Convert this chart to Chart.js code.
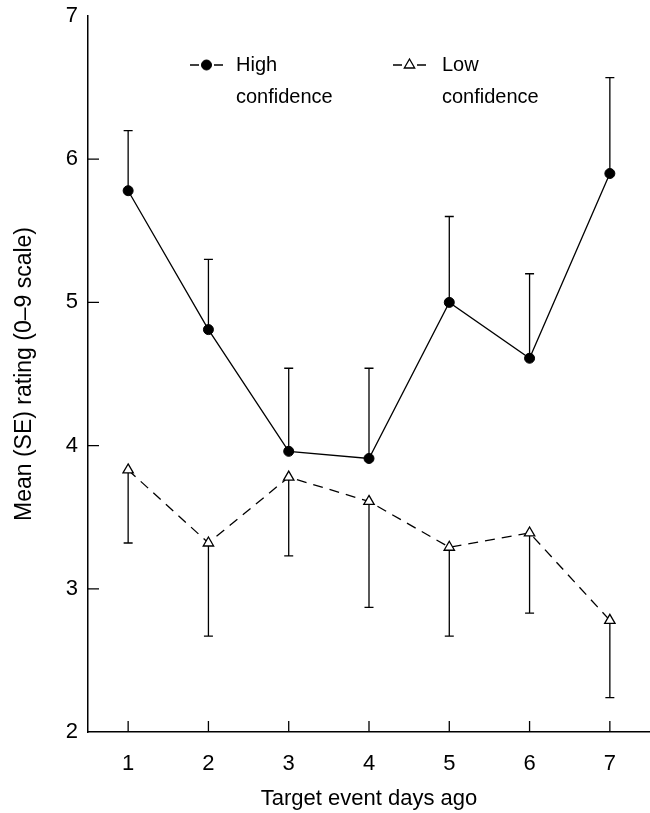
<!DOCTYPE html>
<html>
<head>
<meta charset="utf-8">
<script src="https://cdn.jsdelivr.net/npm/chart.js@4.4.0/dist/chart.umd.min.js"></script>
<style>
  html, body { margin: 0; padding: 0; background: #fff; }
</style>
</head>
<body>
<canvas id="grafico" width="650" height="813"></canvas>
<script>
// values
const days = ['1', '2', '3', '4', '5', '6', '7'];
const highMean = [5.78, 4.81, 3.96, 3.91, 5.0, 4.61, 5.9];
const highTop = [6.2, 5.3, 4.54, 4.54, 5.6, 5.2, 6.57];
const lowMean = [3.83, 3.32, 3.78, 3.61, 3.29, 3.39, 2.78];
const lowBottom = [3.32, 2.67, 3.23, 2.87, 2.67, 2.83, 2.24];
const yMin = 2, yMax = 7;

const FONT = "'Liberation Sans', Arial, sans-serif";
Chart.defaults.font.family = FONT;
Chart.defaults.color = '#000';

// SE bars: high goes up, low goes down
const errorBars = {
  id: 'errorBars',
  beforeDatasetsDraw(chart) {
    const {ctx, scales: {x, y}} = chart;
    const sets = [[highMean, highTop], [lowMean, lowBottom]];
    ctx.save();
    ctx.strokeStyle = '#000';
    ctx.lineWidth = 1.3;
    ctx.beginPath();
    sets.forEach(([mean, end]) => {
      mean.forEach((m, i) => {
        const px = x.getPixelForValue(i);
        const y0 = y.getPixelForValue(m);
        const y1 = y.getPixelForValue(end[i]);
        ctx.moveTo(px, y0);
        ctx.lineTo(px, y1);
        ctx.moveTo(px - 4.5, y1);
        ctx.lineTo(px + 4.5, y1);
      });
    });
    ctx.stroke();
    ctx.restore();
  }
};

// tick marks pointing into the plot
const innerTicks = {
  id: 'innerTicks',
  afterDraw(chart) {
    const {ctx, chartArea, scales: {x, y}} = chart;
    ctx.save();
    ctx.strokeStyle = '#000';
    ctx.lineWidth = 1.3;
    ctx.beginPath();
    y.ticks.forEach(t => {
      if (t.value > yMin && t.value < yMax) {
        const py = y.getPixelForValue(t.value);
        ctx.moveTo(chartArea.left, py);
        ctx.lineTo(chartArea.left + 11, py);
      }
    });
    x.ticks.forEach((t, i) => {
      const px = x.getPixelForTick(i);
      ctx.moveTo(px, chartArea.bottom);
      ctx.lineTo(px, chartArea.bottom - 11);
    });
    ctx.stroke();
    ctx.restore();
  }
};

// legend: -o- label on two lines
const legendBox = {
  id: 'legendBox',
  afterDraw(chart) {
    const ctx = chart.ctx;
    const items = [
      {x: 190, tx: 236, ds: 0, lines: ['High', 'confidence']},
      {x: 393, tx: 442, ds: 1, lines: ['Low', 'confidence']}
    ];
    const y0 = 65;
    items.forEach(it => {
      const ds = chart.data.datasets[it.ds];
      ctx.save();
      ctx.strokeStyle = '#000';
      ctx.lineWidth = 1.3;
      ctx.beginPath();
      ctx.moveTo(it.x, y0); ctx.lineTo(it.x + 9, y0);
      ctx.moveTo(it.x + 24, y0); ctx.lineTo(it.x + 33, y0);
      ctx.stroke();
      const cx = it.x + 16.5, r = ds.pointRadius;
      ctx.fillStyle = ds.pointBackgroundColor;
      ctx.lineWidth = ds.pointBorderWidth;
      ctx.beginPath();
      if (ds.pointStyle === 'triangle') {
        ctx.moveTo(cx, y0 - r);
        ctx.lineTo(cx + Math.sin(Math.PI * 2 / 3) * r, y0 + r / 2);
        ctx.lineTo(cx - Math.sin(Math.PI * 2 / 3) * r, y0 + r / 2);
        ctx.closePath();
      } else {
        ctx.arc(cx, y0, r, 0, Math.PI * 2);
      }
      ctx.fill();
      ctx.stroke();
      ctx.fillStyle = '#000';
      ctx.font = '20px ' + FONT;
      ctx.textBaseline = 'middle';
      ctx.fillText(it.lines[0], it.tx, y0);
      ctx.fillText(it.lines[1], it.tx, y0 + 32);
      ctx.restore();
    });
  }
};

const graph = new Chart(document.getElementById('grafico').getContext('2d'), {
  type: 'line',
  data: {
    labels: days,
    datasets: [{
      label: 'High confidence',
      data: highMean,
      borderColor: '#000',
      borderWidth: 1.3,
      pointStyle: 'circle',
      pointRadius: 5,
      pointBackgroundColor: '#000',
      pointBorderColor: '#000',
      pointBorderWidth: 1,
      tension: 0
    }, {
      label: 'Low confidence',
      data: lowMean,
      borderColor: '#000',
      borderWidth: 1.3,
      borderDash: [10, 7],
      pointStyle: 'triangle',
      pointRadius: 6,
      pointBackgroundColor: '#fff',
      pointBorderColor: '#000',
      pointBorderWidth: 1.3,
      tension: 0
    }]
  },
  options: {
    responsive: false,
    animation: false,
    devicePixelRatio: 1,
    layout: {autoPadding: false, padding: {top: 16, left: 0, right: 0, bottom: 0}},
    plugins: {
      legend: {display: false},
      tooltip: {enabled: false}
    },
    scales: {
      x: {
        type: 'category',
        offset: true,
        afterFit: s => { s.height = 81; s.paddingLeft = 0; s.paddingRight = 0; },
        grid: {display: false, drawTicks: false},
        border: {display: true, color: '#000', width: 1.5},
        ticks: {font: {size: 22}, padding: 19, color: '#000'},
        title: {display: true, text: 'Target event days ago', font: {size: 22}, color: '#000', padding: {top: 0, bottom: 1}}
      },
      y: {
        min: yMin,
        max: yMax,
        afterFit: s => { s.width = 88; s.paddingTop = 0; s.paddingBottom = 0; },
        grid: {display: false, drawTicks: false},
        border: {display: true, color: '#000', width: 1.5},
        ticks: {stepSize: 1, font: {size: 22}, padding: 10, color: '#000'},
        title: {display: true, text: 'Mean (SE) rating (0–9 scale)', font: {size: 23}, color: '#000', padding: {top: 11, bottom: 0}}
      }
    }
  },
  plugins: [errorBars, innerTicks, legendBox]
});
</script>
</body>
</html>
